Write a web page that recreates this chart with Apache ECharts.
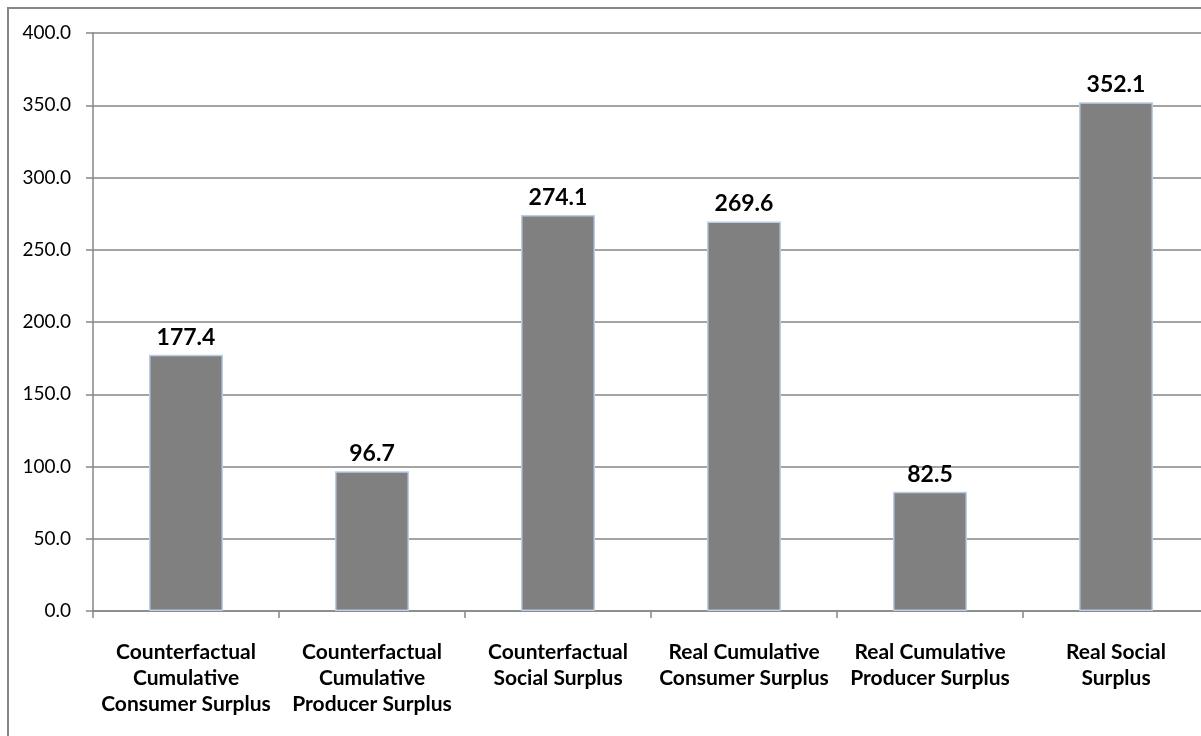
<!DOCTYPE html>
<html>
<head>
<meta charset="utf-8">
<style>
  html, body { margin: 0; padding: 0; background: #fff; overflow: hidden; }
  #frame { position: absolute; left: 7px; top: 7px; width: 1300px; height: 800px; border: 2px solid #868686; box-sizing: border-box; }
  /* the original plot runs a little past the right edge of the picture */
  #chart { position: absolute; left: 0; top: 0; width: 1220px; height: 736px; }
</style>
<script src="https://cdn.jsdelivr.net/npm/echarts@6/dist/echarts.min.js"></script>
</head>
<body>
<div id="frame"></div>
<div id="chart"></div>
<script>
// categories and values
const categories = [
  'Counterfactual\nCumulative\nConsumer Surplus',
  'Counterfactual\nCumulative\nProducer Surplus',
  'Counterfactual\nSocial Surplus',
  'Real Cumulative\nConsumer Surplus',
  'Real Cumulative\nProducer Surplus',
  'Real Social\nSurplus'
]
const surplusValues = [177.4, 96.7, 274.1, 269.6, 82.5, 352.1]
const yMin = 0
const yMax = 400
const yStep = 50

const chart = echarts.init(document.getElementById('chart'), null, { renderer: 'canvas' })

const option = {
  animation: false,
  textStyle: { fontFamily: 'Lato, "Open Sans", sans-serif' },
  grid: {
    left: 93,
    right: 11,
    top: 33,
    bottom: 125,
    outerBoundsMode: 'none'
  },
  xAxis: {
    type: 'category',
    data: categories,
    axisLine: { lineStyle: { color: '#868686', width: 1.5 } },
    axisTick: { show: true, length: 7, lineStyle: { color: '#868686', width: 1.5 } },
    axisLabel: {
      interval: 0,
      color: '#000',
      fontWeight: 'bold',
      fontSize: 21,
      lineHeight: 26,
      margin: 28,
      fontFamily: 'Lato, "Open Sans", sans-serif'
    }
  },
  yAxis: {
    type: 'value',
    min: yMin,
    max: yMax,
    interval: yStep,
    axisLine: { show: true, lineStyle: { color: '#868686', width: 1.5 } },
    axisTick: { show: true, length: 7, lineStyle: { color: '#868686', width: 1.5 } },
    splitLine: { lineStyle: { color: '#868686', width: 1.5 } },
    axisLabel: {
      color: '#000',
      fontSize: 19,
      margin: 22,
      formatter: v => v.toFixed(1),
      fontFamily: 'Lato, "Open Sans", sans-serif'
    }
  },
  series: [{
    type: 'bar',
    data: surplusValues,
    barWidth: 74,
    itemStyle: {
      color: '#808080',
      borderColor: '#b9cde5',
      borderWidth: 1.5
    },
    label: {
      show: true,
      position: 'top',
      distance: 6,
      color: '#000',
      fontWeight: 'bold',
      fontSize: 23,
      formatter: p => p.value.toFixed(1),
      fontFamily: 'Lato, "Open Sans", sans-serif'
    }
  }]
}

chart.setOption(option)
</script>
</body>
</html>
